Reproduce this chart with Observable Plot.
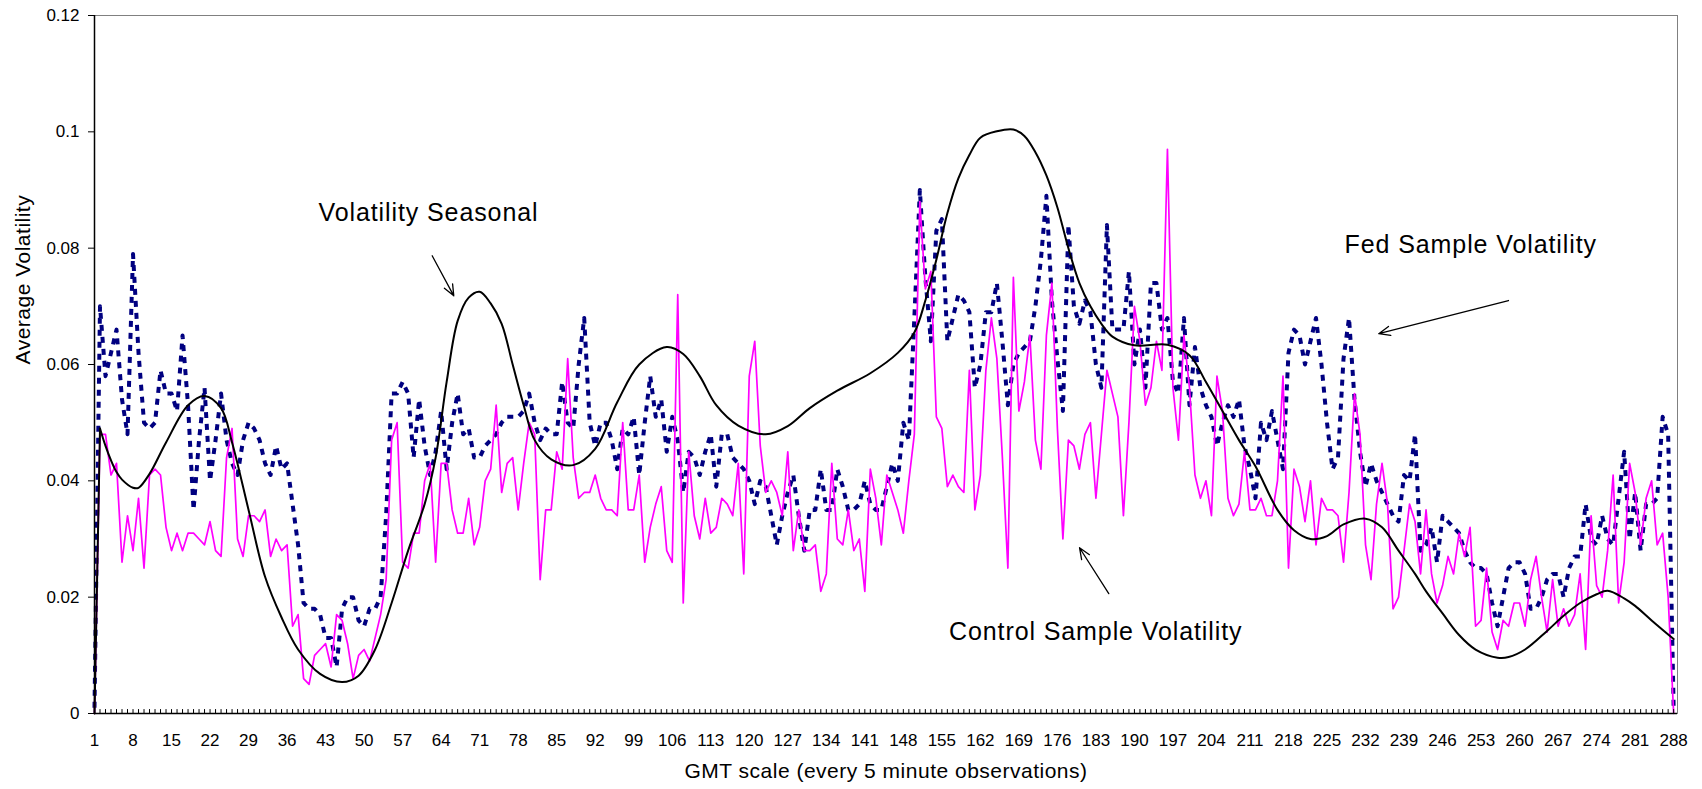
<!DOCTYPE html>
<html><head><meta charset="utf-8">
<script src="https://cdn.jsdelivr.net/npm/d3@7"></script>
<script src="https://cdn.jsdelivr.net/npm/@observablehq/plot@0.6"></script>
<style>body{margin:0;background:#fff;} svg{display:block;}</style>
</head><body><div id="chart"></div>
<script>
// Fed Sample Volatility, observations 1..288
const fed = [
0.001,0.070,0.058,0.062,0.066,0.054,0.048,0.079,0.062,0.050,
0.049,0.050,0.059,0.055,0.055,0.052,0.065,0.053,0.035,0.047,
0.056,0.040,0.047,0.055,0.047,0.043,0.041,0.047,0.050,0.049,
0.047,0.043,0.041,0.046,0.042,0.043,0.036,0.029,0.019,0.018,
0.018,0.017,0.013,0.013,0.008,0.018,0.020,0.020,0.016,0.015,
0.018,0.018,0.020,0.034,0.055,0.055,0.057,0.055,0.044,0.054,
0.046,0.041,0.045,0.052,0.042,0.050,0.055,0.048,0.049,0.044,
0.044,0.046,0.047,0.048,0.050,0.051,0.051,0.051,0.052,0.055,
0.050,0.047,0.049,0.048,0.048,0.057,0.050,0.049,0.060,0.068,
0.050,0.046,0.050,0.050,0.047,0.042,0.049,0.048,0.051,0.041,
0.050,0.058,0.051,0.054,0.045,0.051,0.047,0.038,0.045,0.044,
0.041,0.045,0.048,0.039,0.048,0.048,0.044,0.043,0.042,0.040,
0.036,0.040,0.039,0.034,0.029,0.034,0.038,0.041,0.034,0.028,
0.035,0.035,0.042,0.035,0.035,0.042,0.039,0.035,0.035,0.036,
0.040,0.036,0.035,0.035,0.039,0.043,0.040,0.050,0.047,0.068,
0.090,0.075,0.064,0.083,0.085,0.064,0.068,0.072,0.071,0.069,
0.056,0.060,0.069,0.069,0.074,0.064,0.053,0.060,0.062,0.063,
0.064,0.070,0.078,0.089,0.071,0.061,0.052,0.084,0.070,0.067,
0.071,0.069,0.060,0.056,0.084,0.066,0.066,0.066,0.076,0.060,
0.066,0.056,0.074,0.074,0.066,0.068,0.057,0.055,0.068,0.053,
0.063,0.056,0.053,0.051,0.046,0.050,0.053,0.051,0.054,0.046,
0.042,0.037,0.050,0.047,0.052,0.047,0.042,0.062,0.066,0.065,
0.060,0.064,0.068,0.060,0.050,0.042,0.044,0.061,0.068,0.054,
0.045,0.039,0.043,0.040,0.038,0.036,0.034,0.033,0.041,0.040,
0.048,0.028,0.029,0.032,0.026,0.034,0.033,0.032,0.031,0.028,
0.026,0.025,0.025,0.024,0.019,0.015,0.020,0.025,0.026,0.026,
0.024,0.018,0.018,0.020,0.023,0.024,0.024,0.020,0.025,0.027,
0.027,0.036,0.030,0.029,0.034,0.030,0.029,0.037,0.045,0.030,
0.038,0.028,0.036,0.036,0.037,0.051,0.048,0.001
];
// Control Sample Volatility, observations 1..288
const control = [
0.000,0.048,0.048,0.041,0.043,0.026,0.034,0.028,0.037,0.025,
0.041,0.042,0.041,0.032,0.028,0.031,0.028,0.031,0.031,0.030,
0.029,0.033,0.028,0.027,0.044,0.049,0.030,0.027,0.034,0.034,
0.033,0.035,0.027,0.030,0.028,0.029,0.015,0.017,0.006,0.005,
0.010,0.011,0.012,0.008,0.017,0.016,0.012,0.006,0.010,0.011,
0.009,0.013,0.017,0.023,0.047,0.050,0.026,0.025,0.031,0.031,
0.040,0.043,0.026,0.043,0.043,0.035,0.031,0.031,0.037,0.029,
0.032,0.040,0.042,0.053,0.038,0.043,0.044,0.035,0.043,0.050,
0.048,0.023,0.035,0.035,0.045,0.042,0.061,0.044,0.037,0.038,
0.038,0.041,0.037,0.035,0.035,0.034,0.050,0.035,0.035,0.041,
0.026,0.032,0.036,0.039,0.028,0.026,0.072,0.019,0.045,0.034,
0.030,0.037,0.031,0.032,0.037,0.036,0.034,0.043,0.024,0.058,
0.064,0.046,0.038,0.040,0.038,0.034,0.045,0.028,0.035,0.028,
0.028,0.029,0.021,0.024,0.043,0.030,0.029,0.035,0.028,0.030,
0.021,0.042,0.037,0.029,0.041,0.038,0.035,0.031,0.040,0.048,
0.088,0.073,0.076,0.051,0.049,0.039,0.041,0.039,0.038,0.059,
0.035,0.041,0.059,0.068,0.061,0.044,0.025,0.075,0.052,0.057,
0.065,0.047,0.042,0.065,0.074,0.049,0.030,0.047,0.046,0.042,
0.048,0.050,0.037,0.048,0.059,0.055,0.051,0.034,0.050,0.070,
0.064,0.053,0.056,0.064,0.059,0.097,0.056,0.047,0.065,0.056,
0.041,0.037,0.040,0.034,0.058,0.052,0.037,0.034,0.036,0.045,
0.035,0.035,0.037,0.034,0.034,0.040,0.058,0.025,0.042,0.039,
0.033,0.040,0.029,0.037,0.035,0.035,0.034,0.026,0.038,0.055,
0.048,0.029,0.023,0.036,0.043,0.036,0.018,0.020,0.028,0.036,
0.033,0.024,0.035,0.024,0.019,0.022,0.027,0.024,0.031,0.027,
0.032,0.015,0.016,0.025,0.014,0.011,0.016,0.015,0.019,0.019,
0.015,0.023,0.027,0.020,0.014,0.023,0.015,0.018,0.015,0.017,
0.024,0.011,0.034,0.022,0.020,0.028,0.041,0.019,0.026,0.043,
0.038,0.029,0.037,0.040,0.029,0.031,0.020,0.000
];
// Volatility Seasonal (smooth curve, read at these observations)
const seasonalX = [1,2,3,4,5,6,8,9,11,14,18,21,24,26,29,32,35,38,42,46,49,52,55,58,61,63,65,67,69,71,73,75,77,79,81,84,88,92,96,100,105,108,111,114,118,123,127,131,136,142,147,150,152,154,156,158,160,162,165,168,170,172,174,176,178,180,182,184,186,190,196,200,203,206,209,212,216,219,222,225,228,232,235,238,241,243,246,249,252,256,258,261,265,268,271,274,276,279,281,284,288];
const seasonalY = [0,0.049,0.046,0.0435,0.0415,0.0402,0.0388,0.0388,0.0412,0.0466,0.053,0.0546,0.0525,0.0466,0.035,0.0235,0.0165,0.011,0.0068,0.0054,0.0065,0.011,0.019,0.028,0.036,0.044,0.057,0.0675,0.0715,0.0725,0.0705,0.067,0.060,0.053,0.047,0.0437,0.0427,0.0455,0.0535,0.060,0.063,0.0618,0.058,0.053,0.0495,0.048,0.0494,0.0525,0.0555,0.0585,0.062,0.0655,0.071,0.078,0.086,0.092,0.096,0.099,0.1001,0.1004,0.0993,0.0965,0.0925,0.087,0.080,0.074,0.070,0.067,0.0648,0.0633,0.0634,0.0616,0.057,0.052,0.047,0.0425,0.035,0.0315,0.030,0.0305,0.0325,0.0335,0.032,0.028,0.024,0.021,0.0172,0.0135,0.011,0.0096,0.0097,0.011,0.0142,0.0168,0.019,0.0205,0.0211,0.0198,0.0185,0.016,0.0128];

const xTicks = [1,8,15,22,29,36,43,50,57,64,71,78,85,92,99,106,113,120,127,134,141,148,155,162,169,176,183,190,197,204,211,218,225,232,239,246,253,260,267,274,281,288];
const yTicks = [0,0.02,0.04,0.06,0.08,0.1,0.12];
const yTickLabels = ["0","0.02","0.04","0.06","0.08","0.1","0.12"];
const xTitle = "GMT scale (every 5 minute observations)";
const yTitle = "Average Volatility";
const labelNames = ["Volatility Seasonal","Fed Sample Volatility","Control Sample Volatility"];
const labelX = [41.7, 228.2, 156.3];
const labelY = [0.0860, 0.0805, 0.0140];
const arrowX1 = [62.37, 257.98, 185.34];
const arrowY1 = [0.0787, 0.0710, 0.0206];
const arrowX2 = [66.30, 234.41, 180.02];
const arrowY2 = [0.0718, 0.0653, 0.0285];

const fedData = fed.map((v, i) => ({x: i + 1, y: v}));
const controlData = control.map((v, i) => ({x: i + 1, y: v}));
const seasonalData = seasonalX.map((x, i) => ({x, y: seasonalY[i]}));
const categories = fed.map((_, i) => i + 1);
const labels = labelNames.map((t, i) => ({t, x: labelX[i], y: labelY[i]}));
const arrows = arrowX1.map((x1, i) => ({x1, y1: arrowY1[i], x2: arrowX2[i], y2: arrowY2[i]}));
const tickShape = {draw(context, l) { context.moveTo(0, 0); context.lineTo(0, -l); }};
const font = "'Liberation Sans', Arial, Helvetica, sans-serif";

const chart = Plot.plot({
  width: 1702, height: 789,
  marginLeft: 94, marginRight: 25, marginTop: 15, marginBottom: 76,
  style: {fontFamily: font, background: "#fff", color: "#000"},
  x: {domain: [1, 288.7]},
  y: {domain: [0, 0.12]},
  marks: [
    Plot.frame({stroke: "#808080"}),
    Plot.line(fedData, {x: "x", y: "y", stroke: "#000080", strokeWidth: 4, strokeDasharray: "6,6", strokeLinecap: "butt"}),
    Plot.line(controlData, {x: "x", y: "y", stroke: "#FF00FF", strokeWidth: 1.7}),
    Plot.line(seasonalData.slice(0, 2), {x: "x", y: "y", stroke: "#000", strokeWidth: 2}),
    Plot.line(seasonalData.slice(1), {x: "x", y: "y", stroke: "#000", strokeWidth: 2, curve: "catmull-rom"}),
    Plot.ruleX([1], {stroke: "#000", strokeWidth: 1.5}),
    Plot.ruleY([0], {stroke: "#000", strokeWidth: 1.5}),
    Plot.vector(categories, {x: d => d, y: () => 0, length: 4, anchor: "start", shape: tickShape, stroke: "#000", strokeWidth: 1}),
    Plot.axisY({ticks: yTicks, tickFormat: d => yTickLabels[yTicks.findIndex(t => Math.abs(t - d) < 1e-9)], tickSize: 6, tickPadding: 9, fontSize: 17, label: null}),
    Plot.axisX({ticks: xTicks, tickFormat: d => String(d), tickSize: 0, tickPadding: 20, fontSize: 17, label: null}),
    Plot.text([yTitle], {frameAnchor: "left", dx: -71, rotate: -90, fontSize: 21}),
    Plot.text([xTitle], {frameAnchor: "bottom", dy: 64, fontSize: 21}),
    Plot.text(labels, {x: "x", y: "y", text: "t", textAnchor: "start", fontSize: 25}),
    Plot.arrow(arrows, {x1: "x1", y1: "y1", x2: "x2", y2: "y2", stroke: "#000", strokeWidth: 1.3, headLength: 14, headAngle: 45})
  ]
});
chart.querySelectorAll('g[font-size="25"]').forEach(g => g.setAttribute("letter-spacing", "0.9"));
chart.querySelectorAll('g[font-size="21"]').forEach(g => g.setAttribute("letter-spacing", "0.5"));
document.getElementById("chart").appendChild(chart);
</script>
</body></html>
